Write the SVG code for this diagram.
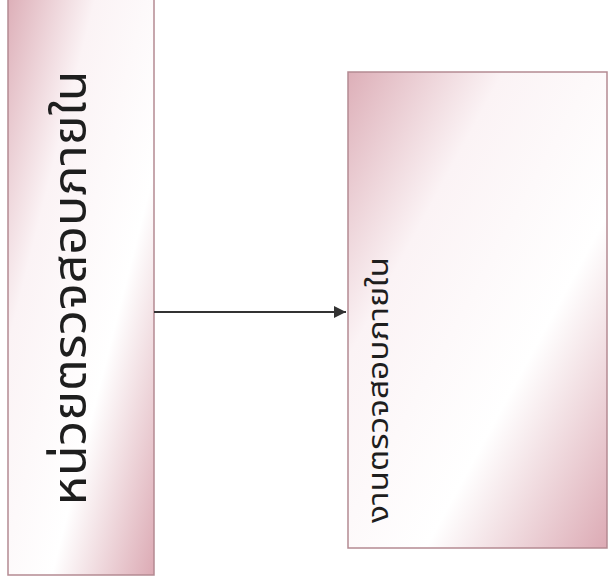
<svg xmlns="http://www.w3.org/2000/svg" width="610" height="583" viewBox="0 0 610 583">
<style>
.box{stroke:#b48a92;stroke-width:1.5}
.lbl{font-family:"Noto Sans Thai","Noto Sans","Liberation Sans",sans-serif;fill:#1e1e1e;text-anchor:middle}
.conn{stroke:#333;stroke-width:2;fill:none}
</style>
<defs>
<linearGradient id="g" x1="0" y1="0" x2="1" y2="1">
<stop offset="0" stop-color="#ddafb8"/>
<stop offset="0.3" stop-color="#fbf3f5"/>
<stop offset="0.65" stop-color="#ffffff"/>
<stop offset="1" stop-color="#dcaab4"/>
</linearGradient>
<marker id="arr" viewBox="0 0 10 10" refX="10" refY="5" markerWidth="6" markerHeight="6" orient="auto" markerUnits="strokeWidth">
<path d="M0,0 L10,5 L0,10 z" fill="#333"/>
</marker>
</defs>
<rect width="610" height="583" fill="#fff"/>
<g id="node-left">
<rect class="box" x="8" y="-2" width="146" height="577" fill="url(#g)"/>
<text class="lbl" font-size="46" textLength="435" lengthAdjust="spacingAndGlyphs" transform="translate(86,288) rotate(-90)">หน่วยตรวจสอบภายใน</text>
</g>
<g id="node-right">
<rect class="box" x="348" y="72" width="259" height="476" fill="url(#g)"/>
<text class="lbl" font-size="28" textLength="266" lengthAdjust="spacingAndGlyphs" transform="translate(388,390) rotate(-90)">งานตรวจสอบภายใน</text>
</g>
<g id="connectors">
<line class="conn" x1="154" y1="312" x2="346" y2="312" marker-end="url(#arr)"/>
</g>
</svg>
